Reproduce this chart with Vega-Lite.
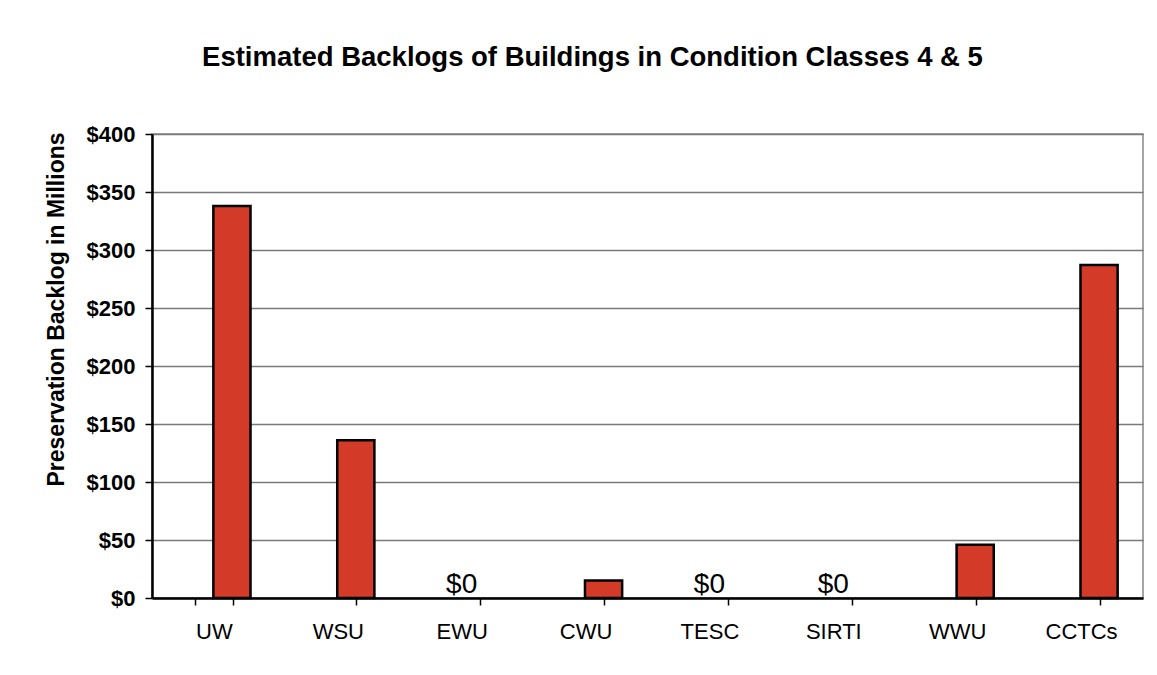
{
  "$schema": "https://vega.github.io/schema/vega-lite/v6.json",
  "autosize": "none",
  "width": 991,
  "height": 464,
  "padding": {"left": 152, "top": 134, "right": 14, "bottom": 77},
  "background": "white",
  "config": {
    "font": "Liberation Sans",
    "view": {"stroke": "#888888", "strokeWidth": 1.5}
  },
  "title": {
    "text": "Estimated Backlogs of Buildings in Condition Classes 4 & 5",
    "font": "Liberation Sans",
    "fontSize": 27.5,
    "fontWeight": "bold",
    "color": "black",
    "anchor": "middle",
    "dx": -55,
    "offset": 52
  },
  "data": {
    "values": [
      {"school": "UW", "backlog": 338},
      {"school": "WSU", "backlog": 136},
      {"school": "EWU", "backlog": 0},
      {"school": "CWU", "backlog": 15},
      {"school": "TESC", "backlog": 0},
      {"school": "SIRTI", "backlog": 0},
      {"school": "WWU", "backlog": 46},
      {"school": "CCTCs", "backlog": 287}
    ]
  },
  "encoding": {
    "x": {
      "field": "school",
      "type": "nominal",
      "sort": null,
      "scale": {
        "domain": ["UW", "WSU", "EWU", "CWU", "TESC", "SIRTI", "WWU", "CCTCs"],
        "paddingInner": 0.7,
        "paddingOuter": 0.35
      },
      "axis": {
        "title": null,
        "labelAngle": 0,
        "labelFontSize": 22,
        "labelColor": "black",
        "labelPadding": 16,
        "domainColor": "black",
        "domainWidth": 2.5,
        "tickColor": "black",
        "tickWidth": 1.5,
        "tickSize": 7,
        "tickBand": "extent"
      }
    },
    "y": {
      "field": "backlog",
      "type": "quantitative",
      "scale": {"domain": [0, 400]},
      "axis": {
        "title": "Preservation Backlog in Millions",
        "titleFontSize": 23,
        "titleFontWeight": "bold",
        "titleColor": "black",
        "titleX": -84,
        "titleY": 175,
        "titleAngle": -90,
        "values": [0, 50, 100, 150, 200, 250, 300, 350, 400],
        "labelExpr": "'$' + datum.value",
        "labelFontSize": 22,
        "labelFontWeight": "bold",
        "labelColor": "black",
        "labelPadding": 10,
        "domainColor": "black",
        "domainWidth": 2.5,
        "tickColor": "black",
        "tickWidth": 1.5,
        "tickSize": 7,
        "gridColor": "#7a7a7a",
        "gridWidth": 1.3
      }
    }
  },
  "layer": [
    {
      "transform": [{"filter": "datum.backlog > 0"}],
      "mark": {"type": "bar", "color": "#d33b28", "stroke": "black", "strokeWidth": 2.5, "xOffset": 18}
    },
    {
      "transform": [{"filter": "datum.backlog == 0"}],
      "mark": {"type": "text", "fontSize": 28, "color": "black", "baseline": "alphabetic", "dy": -5},
      "encoding": {
        "text": {"value": "$0"}
      }
    }
  ]
}
